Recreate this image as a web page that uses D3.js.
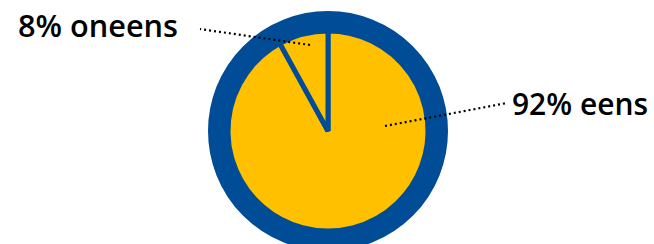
<!DOCTYPE html>
<html><head><meta charset="utf-8">
<script src="https://cdn.jsdelivr.net/npm/d3@7"></script>
<style>html,body{margin:0;padding:0;background:#fff;overflow:hidden}</style>
</head><body>
<svg id="c" width="654" height="244"></svg>
<script>
const categories = ["eens", "oneens"];
const values = [92, 8];

const svg = d3.select("#c");
const cx = 328, cy = 131;
const rInner = 100, ringW = 20;
const blue = "#004C97", yellow = "#FFC000";

const pie = d3.pie().sort(null).value(d => d.v);
const data = pie(categories.map((c, i) => ({c, v: values[i]})));
const arc = d3.arc().innerRadius(0).outerRadius(rInner);

const g = svg.append("g").attr("transform", `translate(${cx},${cy})`);
g.selectAll("path.slice").data(data).enter().append("path")
  .attr("class", "slice")
  .attr("d", arc)
  .attr("fill", yellow)
  .attr("stroke", blue)
  .attr("stroke-width", 5)
  .attr("stroke-linejoin", "miter");
g.append("circle").attr("r", rInner + ringW / 2)
  .attr("fill", "none").attr("stroke", blue).attr("stroke-width", ringW);

// leader lines and labels
const labelPos = {
  eens:   {line: [[385, 126], [507, 103]], text: [512, 115], len: 136},
  oneens: {line: [[310, 45], [200, 29]], text: [18, 37], len: 160}
};
data.forEach(d => {
  const p = labelPos[d.data.c];
  svg.append("line")
    .attr("x1", p.line[0][0]).attr("y1", p.line[0][1])
    .attr("x2", p.line[1][0]).attr("y2", p.line[1][1])
    .attr("stroke", "#000").attr("stroke-width", 2.2)
    .attr("stroke-dasharray", "2,3");
  svg.append("text")
    .attr("x", p.text[0]).attr("y", p.text[1])
    .attr("font-family", "'Open Sans', sans-serif")
    .attr("font-size", 30)
    .attr("font-weight", 600)
    .attr("textLength", p.len)
    .attr("lengthAdjust", "spacingAndGlyphs")
    .attr("fill", "#000")
    .text(`${d.data.v}% ${d.data.c}`);
});
</script>
</body></html>
